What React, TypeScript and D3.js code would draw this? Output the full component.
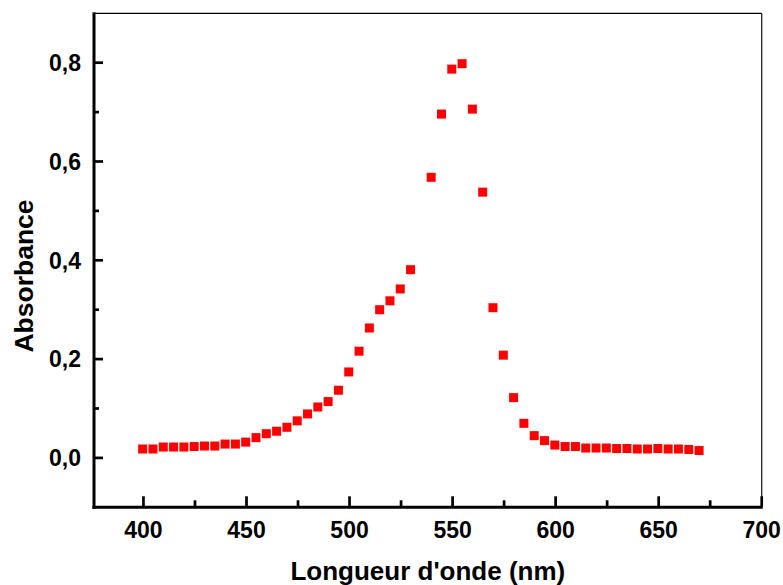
import React from "react";
import * as d3 from "d3";

const wavelengths = [
  400, 405, 410, 415, 420, 425, 430, 435, 440, 445, 450, 455, 460, 465, 470,
  475, 480, 485, 490, 495, 500, 505, 510, 515, 520, 525, 530, 540, 545, 550,
  555, 560, 565, 570, 575, 580, 585, 590, 595, 600, 605, 610, 615, 620, 625,
  630, 635, 640, 645, 650, 655, 660, 665, 670,
];
const absorbance = [
  0.018, 0.018, 0.022, 0.022, 0.022, 0.023, 0.024, 0.024, 0.028, 0.028, 0.032,
  0.041, 0.049, 0.054, 0.062, 0.075, 0.089, 0.103, 0.114, 0.137, 0.174, 0.216,
  0.263, 0.3, 0.318, 0.342, 0.381, 0.568, 0.696, 0.787, 0.798, 0.706, 0.538,
  0.304, 0.208, 0.122, 0.07, 0.045, 0.035, 0.026, 0.023, 0.023, 0.02, 0.02,
  0.02, 0.019, 0.019, 0.018, 0.018, 0.019, 0.018, 0.018, 0.017, 0.015,
];
const xMajorTicks = [400, 450, 500, 550, 600, 650, 700];
const xMinorTicks = [425, 475, 525, 575, 625, 675];
const yMajorTicks = [0, 0.2, 0.4, 0.6, 0.8];
const yMinorTicks = [0.1, 0.3, 0.5, 0.7];
const xTitle = "Longueur d'onde (nm)";
const yTitle = "Absorbance";

const W = 783;
const H = 585;
const left = 94;
const right = 761.7;
const top = 13.3;
const bottom = 507.3;
const font = "'Liberation Sans', Arial, sans-serif";

export default function App() {
  const x = d3.scaleLinear().domain([376, 700]).range([left, right]);
  const y = d3.scaleLinear().domain([-0.1, 0.9]).range([bottom, top]);
  const fmt = (v: number) => d3.format(".1f")(v).replace(".", ",");
  const ms = 9;
  return (
    <svg
      width={W}
      height={H}
      style={{ position: "absolute", left: 0, top: 0, background: "#fff" }}
    >
      <rect x={0} y={0} width={W} height={H} fill="#fff" />
      <line x1={left} x2={right} y1={top} y2={top} stroke="#000" strokeWidth={1.3} />
      <line x1={right} x2={right} y1={top} y2={bottom} stroke="#222" strokeWidth={1.3} />
      <line x1={left} x2={left} y1={top - 1} y2={bottom + 1.5} stroke="#000" strokeWidth={3} />
      <line x1={left - 1.5} x2={right + 1} y1={bottom} y2={bottom} stroke="#000" strokeWidth={3} />
      {xMajorTicks.map((t) => (
        <g key={"xm" + t}>
          <line x1={x(t)} x2={x(t)} y1={bottom} y2={bottom - 11} stroke="#000" strokeWidth={2.7} />
          <text
            x={x(t)}
            y={538}
            textAnchor="middle"
            fontFamily={font}
            fontWeight="bold"
            fontSize={23}
            fill="#000"
          >
            {t}
          </text>
        </g>
      ))}
      {xMinorTicks.map((t) => (
        <line key={"xn" + t} x1={x(t)} x2={x(t)} y1={bottom} y2={bottom - 7} stroke="#000" strokeWidth={2.7} />
      ))}
      {yMajorTicks.map((t) => (
        <g key={"ym" + t}>
          <line x1={left} x2={left + 9} y1={y(t)} y2={y(t)} stroke="#000" strokeWidth={2.7} />
          <text
            x={81}
            y={y(t)}
            dy="0.36em"
            textAnchor="end"
            fontFamily={font}
            fontWeight="bold"
            fontSize={23}
            fill="#000"
          >
            {fmt(t)}
          </text>
        </g>
      ))}
      {yMinorTicks.map((t) => (
        <line key={"yn" + t} x1={left} x2={left + 5} y1={y(t)} y2={y(t)} stroke="#000" strokeWidth={2.7} />
      ))}
      {wavelengths.map((w, i) => (
        <rect
          key={"p" + w}
          x={x(w) - ms / 2 - 0.8}
          y={y(absorbance[i]) - ms / 2}
          width={ms}
          height={ms}
          fill="#ff0000"
        />
      ))}
      <text
        x={(left + right) / 2}
        y={580}
        textAnchor="middle"
        fontFamily={font}
        fontWeight="bold"
        fontSize={26}
        fill="#000"
      >
        {xTitle}
      </text>
      <text
        transform="translate(33,276) rotate(-90)"
        textAnchor="middle"
        fontFamily={font}
        fontWeight="bold"
        fontSize={26.5}
        fill="#000"
      >
        {yTitle}
      </text>
    </svg>
  );
}
